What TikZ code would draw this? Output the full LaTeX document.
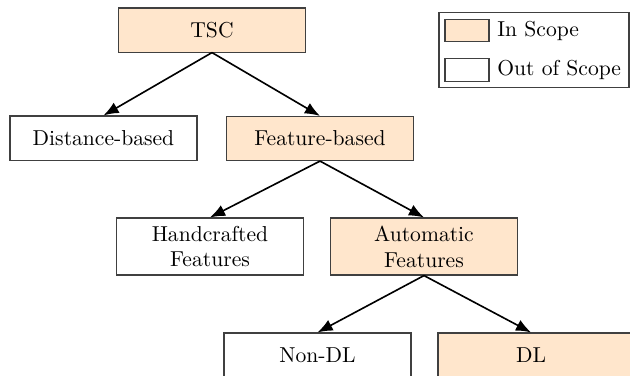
\documentclass[tikz,border=0pt]{standalone}
\usetikzlibrary{arrows.meta}
\definecolor{scopefill}{RGB}{255,230,204}
\tikzset{
  cat/.style={draw=black!75, line width=0.5pt, minimum width=86.6pt,
              minimum height=20.4pt, align=center, inner sep=2pt},
  twoline/.style={minimum height=26.4pt, inner ysep=1pt},
  inscope/.style={fill=scopefill},
  link/.style={line width=0.75pt, -{Latex[length=7pt,width=5.5pt]}},
  swatch/.style={draw=black!75, line width=0.5pt, minimum width=20.4pt,
                 minimum height=10.6pt, inner sep=0pt}
}
\begin{document}
\begin{tikzpicture}[x=0.463pt, y=-0.463pt]
  \useasboundingbox (0,0) rectangle (630,375);
  \clip (0,0) rectangle (630,375);

  % taxonomy of time series classification
  \node[cat, inscope] (tsc)  at (212,30)    {TSC};
  \node[cat]          (dist) at (103.5,138) {Distance-based};
  \node[cat, inscope] (feat) at (320,138.5) {Feature-based};
  \node[cat, twoline] (hand) at (210,246.5) {Handcrafted\\Features};
  \node[cat, twoline, inscope] (auto) at (424,246.5) {Automatic\\Features};
  \node[cat]          (ndl)  at (317.5,355) {Non-DL};
  \node[cat, inscope, minimum width=91.2pt] (dl) at (536.5,355) {\hspace*{-5pt}DL};

  \draw[link] (tsc.south)  -- (dist.north);
  \draw[link] (tsc.south)  -- (feat.north);
  \draw[link] (feat.south) -- (hand.north);
  \draw[link] (feat.south) -- (auto.north);
  \draw[link] (auto.south) -- (ndl.north);
  \draw[link] (auto.south) -- ([xshift=-2.5pt]dl.north);

  % legend
  \node[draw=black!75, line width=0.5pt, minimum width=88pt, minimum height=34.7pt,
        inner sep=0pt] (legend) at (534,50) {};
  \node[swatch, inscope] (swin)  at (467,30.5) {};
  \node[swatch]          (swout) at (467,70)   {};
  \node[anchor=west, inner sep=0pt] (txin)  at (497,30.5) {In Scope};
  \node[anchor=west, inner sep=0pt] (txout) at (497,70)   {Out of Scope};
\end{tikzpicture}
\end{document}
